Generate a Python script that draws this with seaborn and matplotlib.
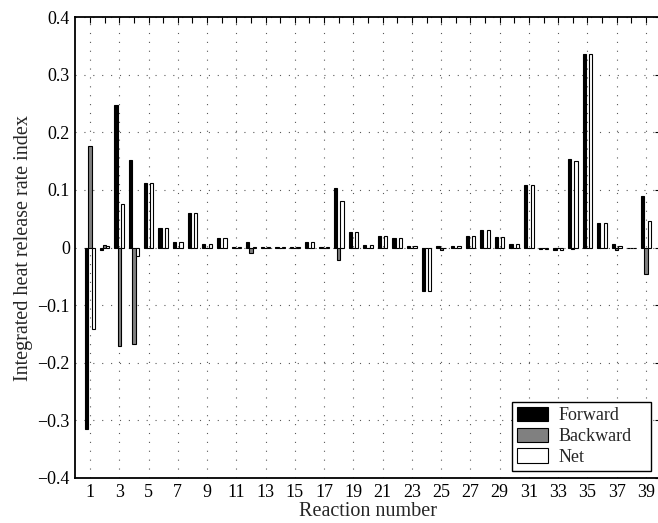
import matplotlib
matplotlib.use("Agg")
import matplotlib.pyplot as plt
import seaborn as sns
import pandas as pd
from matplotlib.ticker import FixedLocator

reactions = list(range(1, 40))
forward = [-0.315, -0.004, 0.247, 0.152, 0.112, 0.034, 0.010, 0.060, 0.007, 0.017,
           0.001, 0.010, 0.001, 0.001, 0.001, 0.010, 0.001, 0.104, 0.027, 0.004,
           0.020, 0.016, 0.002, -0.076, 0.003, 0.002, 0.021, 0.030, 0.019, 0.007,
           0.108, -0.002, -0.005, 0.153, 0.336, 0.042, 0.007, -0.001, 0.090]
backward = [0.176, 0.005, -0.171, -0.167, 0.0, 0.0, 0.0, 0.0, 0.0, 0.0,
            0.0, -0.009, 0.0, 0.0, 0.0, 0.0, 0.0, -0.022, 0.0, 0.0,
            0.0, 0.0, 0.0, 0.0, -0.004, 0.0, 0.0, 0.0, 0.0, 0.0,
            0.0, 0.0, 0.0, -0.003, 0.0, 0.0, -0.005, 0.0, -0.045]
net = [-0.141, 0.002, 0.076, -0.015, 0.112, 0.034, 0.010, 0.060, 0.007, 0.017,
       0.001, 0.001, 0.001, 0.001, 0.001, 0.010, 0.001, 0.081, 0.027, 0.004,
       0.020, 0.016, 0.002, -0.076, -0.001, 0.002, 0.021, 0.030, 0.019, 0.007,
       0.108, -0.002, -0.005, 0.150, 0.336, 0.042, 0.002, -0.001, 0.046]
series_names = ["Forward", "Backward", "Net"]
series_colors = ["#000000", "#808080", "#ffffff"]
yticks = [-0.4, -0.3, -0.2, -0.1, 0.0, 0.1, 0.2, 0.3, 0.4]
ytick_labels = ["\u22120.4", "\u22120.3", "\u22120.2", "\u22120.1", "0", "0.1", "0.2", "0.3", "0.4"]

rows = []
for name, vals in zip(series_names, [forward, backward, net]):
    for r, v in zip(reactions, vals):
        rows.append({"Reaction": r, "Value": v, "Type": name})
df = pd.DataFrame(rows)

sns.set_theme(style="white")
plt.rcParams["font.family"] = ["Liberation Serif", "DejaVu Serif"]

fig = plt.figure(figsize=(6.58, 5.23), dpi=100)
ax = fig.add_axes([75.4 / 658, 45 / 523, (660.6 - 75.4) / 658, 460.8 / 523])

sns.barplot(data=df, x="Reaction", y="Value", hue="Type",
            order=reactions, hue_order=series_names,
            palette=dict(zip(series_names, series_colors)),
            width=0.66, gap=0, edgecolor="black", linewidth=0.8,
            errorbar=None, saturation=1, ax=ax)

ax.set_xlim(-1, 39)
ax.set_ylim(-0.4, 0.4)
ax.set_xticks(range(0, 39, 2))
ax.set_xticklabels([str(r) for r in reactions[::2]])
ax.xaxis.set_minor_locator(FixedLocator(list(range(1, 39, 2))))
ax.set_yticks(yticks)
ax.set_yticklabels(ytick_labels)

ax.tick_params(axis="both", which="both", direction="in", top=True, right=True,
               labelsize=13, colors="black", width=0.8)
ax.tick_params(axis="both", which="major", length=4, pad=4)
ax.tick_params(axis="x", which="minor", length=4)

ax.grid(True, which="major", axis="both", color="0.35", linestyle=(0, (1, 7)), linewidth=0.8)
ax.set_axisbelow(True)
for s in ax.spines.values():
    s.set_visible(True)
    s.set_color("black")
    s.set_linewidth(1.3)

ax.set_xlabel("Reaction number", fontsize=14.5, labelpad=1)
ax.set_ylabel("Integrated heat release rate index", fontsize=14.5, labelpad=3)

old = ax.get_legend()
handles = old.legend_handles
labels = [t.get_text() for t in old.texts]
old.remove()
x0 = (512 - 75.4) / 585.2
w = (651 - 512) / 585.2
y0 = (478.7 - 472) / 460.8
leg = ax.legend(handles, labels, loc="lower left", bbox_to_anchor=(x0, y0, w, 0.14),
                mode="expand", borderaxespad=0, fontsize=13, frameon=True, fancybox=False,
                edgecolor="black", framealpha=1, handlelength=1.7, handleheight=0.85,
                labelspacing=0.18, borderpad=0.3, handletextpad=0.55)
leg.get_frame().set_linewidth(1.0)
for h in leg.legend_handles:
    h.set_edgecolor("black")
    h.set_linewidth(0.8)

fig.savefig("out.png", dpi=100)
